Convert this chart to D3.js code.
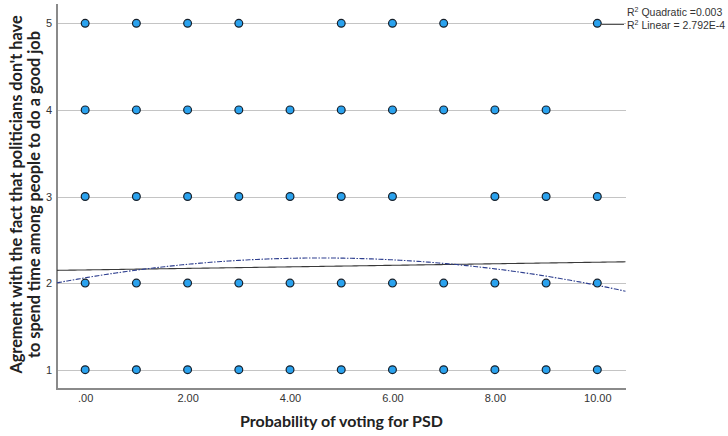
<!DOCTYPE html>
<html>
<head>
<meta charset="utf-8">
<script src="https://cdn.jsdelivr.net/npm/d3@7"></script>
<style>
  html, body { margin: 0; padding: 0; background: #fff; }
  svg { display: block; }
</style>
</head>
<body>
<div id="chart"></div>
<script>
// ---- Data ----
const xCategories = [0, 1, 2, 3, 4, 5, 6, 7, 8, 9, 10];
const yCategories = [1, 2, 3, 4, 5];
const xTickValues = [0, 2, 4, 6, 8, 10];
const xTickLabels = [".00", "2.00", "4.00", "6.00", "8.00", "10.00"];
const yTickLabels = ["1", "2", "3", "4", "5"];

// x values observed at each y level
const pointsAt5 = [0, 1, 2, 3, 5, 6, 7, 10];
const pointsAt4 = [0, 1, 2, 3, 4, 5, 6, 7, 8, 9];
const pointsAt3 = [0, 1, 2, 3, 4, 5, 6, 8, 9, 10];
const pointsAt2 = [0, 1, 2, 3, 4, 5, 6, 7, 8, 9, 10];
const pointsAt1 = [0, 1, 2, 3, 4, 5, 6, 7, 8, 9, 10];

// fit-line coefficients (intercept, slope[, quadratic term])
const linearFit = [2.152, 0.0089];
const quadraticFit = [2.061, 0.0996, -0.01083];

const legendLabels = ["Quadratic =0.003", "Linear = 2.792E-4"];

const xTitle = "Probability of voting for PSD";
const yTitleLines = ["Agrement with the fact that politicians don't have",
                     "to spend time among people to do a good job"];

// ---- Layout ----
const W = 728, H = 436;
const plot = { left: 57, right: 626, top: 4, bottom: 389 };

const svg = d3.select("#chart").append("svg")
  .attr("width", W).attr("height", H);

const x = d3.scaleLinear().domain([-0.55, 10.56]).range([plot.left, plot.right]);
const y = d3.scaleLinear().domain([0.777, 5.223]).range([plot.bottom, plot.top]);

const tickFont = "'Liberation Sans', Arial, sans-serif";
const titleFont = "Lato, 'Liberation Sans', sans-serif";

// gridlines
svg.append("g").selectAll("line").data(yCategories).join("line")
  .attr("x1", plot.left).attr("x2", plot.right)
  .attr("y1", d => Math.round(y(d)) + 0.5).attr("y2", d => Math.round(y(d)) + 0.5)
  .attr("stroke", "#c4c4c4").attr("stroke-width", 1);

// axes (via d3 axes, domain lines styled)
const yAxis = svg.append("g")
  .attr("transform", `translate(${plot.left},0)`)
  .call(d3.axisLeft(y).tickValues(yCategories).tickFormat((d, i) => yTickLabels[i]).tickSize(0).tickPadding(5));
yAxis.select(".domain").remove();
yAxis.selectAll("text").attr("font-family", tickFont).attr("font-size", 11).attr("fill", "#333");

const xAxis = svg.append("g")
  .attr("transform", `translate(0,${plot.bottom})`)
  .call(d3.axisBottom(x).tickValues(xTickValues).tickFormat((d, i) => xTickLabels[i]).tickSize(0).tickPadding(5));
xAxis.select(".domain").remove();
xAxis.selectAll("text").attr("font-family", tickFont).attr("font-size", 11).attr("fill", "#333");

svg.append("line")
  .attr("x1", plot.left).attr("x2", plot.left)
  .attr("y1", plot.top).attr("y2", plot.bottom)
  .attr("stroke", "#8a8a8a").attr("stroke-width", 2);
svg.append("line")
  .attr("x1", plot.left - 1).attr("x2", plot.right)
  .attr("y1", plot.bottom).attr("y2", plot.bottom)
  .attr("stroke", "#8a8a8a").attr("stroke-width", 2);

// fit lines
const xs = d3.range(-0.55, 10.561, 0.05);
const line = d3.line().x(d => x(d[0])).y(d => y(d[1]));

svg.append("path")
  .datum(xs.map(v => [v, linearFit[0] + linearFit[1] * v]))
  .attr("d", line).attr("fill", "none")
  .attr("stroke", "#3a3a3a").attr("stroke-width", 1.1);

svg.append("path")
  .datum(xs.map(v => [v, quadraticFit[0] + quadraticFit[1] * v + quadraticFit[2] * v * v]))
  .attr("d", line).attr("fill", "none")
  .attr("stroke", "#2e3f8f").attr("stroke-width", 1.1)
  .attr("stroke-dasharray", "5,1.5,1.5,1.5");

// points
const rows = [
  { level: 1, xs: pointsAt1 },
  { level: 2, xs: pointsAt2 },
  { level: 3, xs: pointsAt3 },
  { level: 4, xs: pointsAt4 },
  { level: 5, xs: pointsAt5 }
];
const pts = rows.flatMap(r => r.xs.map(v => ({ x: v, y: r.level })));
svg.append("g").selectAll("circle").data(pts).join("circle")
  .attr("cx", d => x(d.x)).attr("cy", d => y(d.y)).attr("r", 3.9)
  .attr("fill", "#2aa2ee").attr("stroke", "#18202a").attr("stroke-width", 1.2);

// legend
const legend = svg.append("g").attr("font-family", tickFont).attr("font-size", 10.5).attr("fill", "#333");
legendLabels.forEach((lab, i) => {
  const t = legend.append("text").attr("x", 627).attr("y", 16 + i * 12.5);
  t.append("tspan").text("R");
  t.append("tspan").attr("dy", -4).attr("font-size", 7).text("2");
  t.append("tspan").attr("dy", 4).text(" " + lab);
});
svg.append("line")
  .attr("x1", 600).attr("x2", 624).attr("y1", 24.5).attr("y2", 24.5)
  .attr("stroke", "#555").attr("stroke-width", 1);

// axis titles
svg.append("text")
  .attr("x", (plot.left + plot.right) / 2).attr("y", 427)
  .attr("text-anchor", "middle")
  .attr("font-family", titleFont).attr("font-weight", "bold").attr("font-size", 16)
  .attr("fill", "#222").text(xTitle);

const yc = (plot.top + plot.bottom) / 2 - 2;
yTitleLines.forEach((t, i) => {
  svg.append("text")
    .attr("transform", `translate(${22 + i * 17.5},${yc}) rotate(-90)`)
    .attr("text-anchor", "middle")
    .attr("font-family", titleFont).attr("font-weight", "bold").attr("font-size", 16.3)
    .attr("fill", "#222").text(t);
});
</script>
</body>
</html>
